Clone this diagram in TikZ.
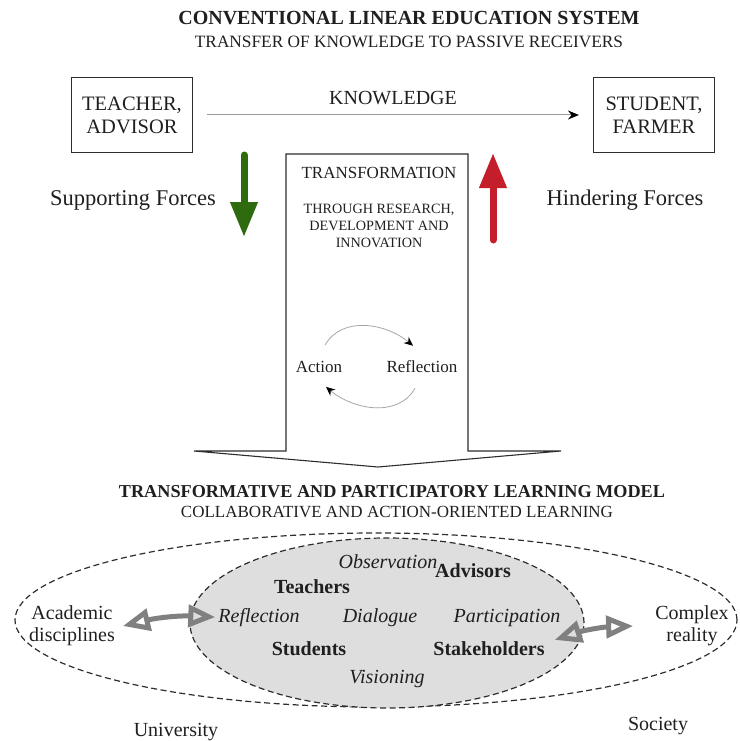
\documentclass[tikz,border=0pt]{standalone}
\usepackage{fontspec}
\setmainfont{Liberation Serif}
\usetikzlibrary{arrows.meta,shapes.geometric}
\definecolor{forcegreen}{RGB}{46,107,14}
\definecolor{forcered}{RGB}{196,30,42}
\definecolor{ellgray}{RGB}{222,222,222}
\definecolor{linkgray}{RGB}{128,128,128}
\definecolor{linegray}{RGB}{45,45,45}
\newcommand{\setfs}[2]{\fontsize{#1}{#2}\selectfont}
\begin{document}
\begin{tikzpicture}[x=1pt, y=-1pt,
    every node/.style={inner sep=2pt, text=black!88},
    heading/.style={font=\bfseries\setfs{20}{24}},
    subheading/.style={font=\setfs{17.3}{20}},
    actor/.style={draw=linegray, line width=1.1pt, minimum width=121pt, minimum height=75pt,
      align=center, font=\setfs{20.5}{23}},
    forcelabel/.style={font=\setfs{22.5}{26}},
    force/.style={line width=7pt, line cap=round, -{Triangle[length=35pt, width=26pt]}},
    cycle/.style={draw=gray!70, thick, -{Stealth[black, length=9pt, width=8pt]}},
    field/.style={ellipse, draw=linegray, line width=1.2pt, dash pattern=on 6pt off 3.5pt, inner sep=0pt},
    agent/.style={font=\bfseries\setfs{20}{23}},
    practice/.style={font=\itshape\setfs{20}{23}},
    realm/.style={font=\setfs{20}{22}, align=center},
    link/.style={line width=5pt, draw=linkgray,
      {Triangle[open, length=27pt, width=22pt]}-{Triangle[open, length=27pt, width=22pt]}}]
  \useasboundingbox (0,0) rectangle (739,741);

  % conventional system
  \node[heading] (top) at (409,18) {CONVENTIONAL LINEAR EDUCATION SYSTEM};
  \node[subheading] (topsub) at (409,42) {TRANSFER OF KNOWLEDGE TO PASSIVE RECEIVERS};
  \node[actor] (teacher) at (132,115) {TEACHER,\\ADVISOR};
  \node[actor] (student) at (654,115) {STUDENT,\\FARMER};
  \draw[gray!80, line width=1pt, -{Stealth[black, length=11pt, width=9pt]}, shorten <=14pt, shorten >=14pt]
    (teacher) -- node[above=8pt, font=\setfs{20}{23}] (know) {KNOWLEDGE} (student);

  % forces
  \node[forcelabel] (support) at (133,200) {Supporting Forces};
  \node[forcelabel] (hinder) at (625,200) {Hindering Forces};
  \coordinate (gtop) at (244,155);
  \coordinate (gbot) at (244,237);
  \coordinate (rbot) at (493,240);
  \coordinate (rtop) at (493,153);
  \draw[force, forcegreen] (gtop) -- (gbot);
  \draw[force, forcered] (rbot) -- (rtop);

  % transformation arrow
  \draw[linegray, line width=1.1pt] (286,154) -- (468,154) -- (468,451) -- (561,451)
    -- (378,467) -- (194,451) -- (286,451) -- cycle;
  \node[font=\setfs{17}{20}] (trans) at (379,173) {TRANSFORMATION};
  \node[font=\setfs{14.2}{17}, align=center] (rdi) at (379,226)
    {THROUGH RESEARCH,\\DEVELOPMENT AND\\INNOVATION};
  \node[font=\setfs{17}{20}] (act) at (319,367) {Action};
  \node[font=\setfs{17}{20}] (refl) at (422,367) {Reflection};
  \draw[cycle] ([shift={(6,-14)}]act.north) to[out=60, in=140] ([shift={(-9,-13)}]refl.north);
  \draw[cycle] ([shift={(-7,13)}]refl.south) to[out=-120, in=-40] ([shift={(7,12)}]act.south);

  % participatory model
  \node[heading, font=\bfseries\setfs{18.2}{22}] (bottom) at (392,492)
    {TRANSFORMATIVE AND PARTICIPATORY LEARNING MODEL};
  \node[subheading, font=\setfs{17}{20}] (bottomsub) at (397,512)
    {COLLABORATIVE AND ACTION-ORIENTED LEARNING};
  \node[field, minimum width=722pt, minimum height=174pt] (society) at (376,620) {};
  \node[field, fill=ellgray, minimum width=394pt, minimum height=170pt] (partners) at (387,623) {};

  \node[practice, anchor=base] (obs) at (388,568) {Observation};
  \node[agent, anchor=base] (adv) at (473,577) {Advisors};
  \node[agent, anchor=base] (teach) at (312,593) {Teachers};
  \node[practice, anchor=base] (reflct) at (259,622) {Reflection};
  \node[practice, anchor=base] (dia) at (380,622) {Dialogue};
  \node[practice, anchor=base] (part) at (507,622) {Participation};
  \node[agent, anchor=base] (stud) at (309,655) {Students};
  \node[agent, anchor=base] (stake) at (489,655) {Stakeholders};
  \node[practice, anchor=base] (vis) at (387,683) {Visioning};

  \node[realm] (acad) at (72,626) {Academic\\disciplines};
  \node[realm] (cplx) at (692,626) {Complex\\reality};
  \node[realm, anchor=base] (uni) at (176,736) {University};
  \node[realm, anchor=base] (soc) at (658,730) {Society};

  \draw[link] ([xshift=6pt]acad.east) to[bend left=8] ([xshift=-1pt]reflct.west);
  \draw[link] ([shift={(8,1)}]stake.north east) to[bend left=8] ([xshift=-20pt]cplx.west);
\end{tikzpicture}
\end{document}
